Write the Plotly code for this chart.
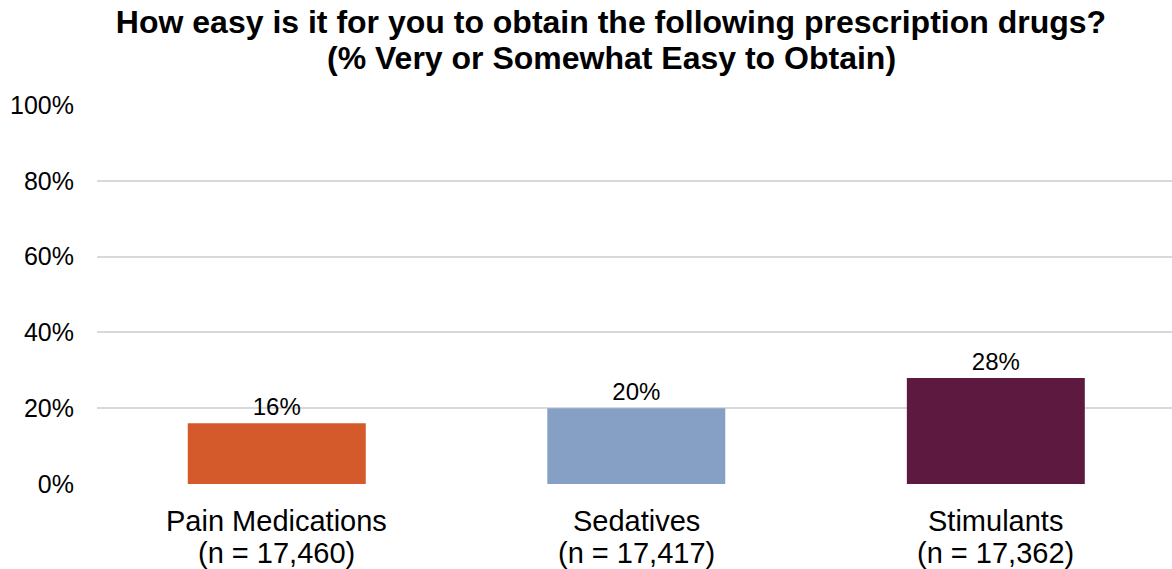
import plotly.graph_objects as go

# Survey results: share who find each drug class very/somewhat easy to obtain
categories = ["Pain Medications", "Sedatives", "Stimulants"]
sample_sizes = ["17,460", "17,417", "17,362"]
pct_easy = [16, 20, 28]
bar_colors = ["#D55A2B", "#85A0C4", "#5E1941"]
y_ticks = [0, 20, 40, 60, 80, 100]
y_tick_labels = ["0%", "20%", "40%", "60%", "80%", "100%"]

FONT = "Liberation Sans, Arial, sans-serif"
W, H = 1172, 569
M_L, M_R, M_T, M_B = 97, 0, 105, 85
TITLE_CX = 611  # horizontal centre of both title lines, px

fig = go.Figure(
    go.Bar(
        x=categories,
        y=pct_easy,
        width=0.495,
        marker=dict(color=bar_colors, line=dict(width=0)),
        text=[f"{v}%" for v in pct_easy],
        textposition="outside",
        textfont=dict(family=FONT, size=24, color="#000000"),
        cliponaxis=False,
    )
)

# Category labels: name on the first line, sample size beneath
annotations = []
for cat, n in zip(categories, sample_sizes):
    annotations.append(dict(x=cat, xref="x", y=0, yref="paper", yshift=-37,
                            text=cat, showarrow=False, yanchor="middle",
                            font=dict(size=29, family=FONT, color="#000000")))
    annotations.append(dict(x=cat, xref="x", y=0, yref="paper", yshift=-69,
                            text=f"(n = {n})", showarrow=False, yanchor="middle",
                            font=dict(size=29, family=FONT, color="#000000")))

# Second title line
annotations.append(dict(x=(TITLE_CX - M_L) / (W - M_L - M_R), xref="paper",
                        y=1, yref="paper", yshift=47,
                        xanchor="center", yanchor="middle", showarrow=False,
                        text="<b>(% Very or Somewhat Easy to Obtain)</b>",
                        font=dict(size=32, family=FONT, color="#000000")))

fig.update_layout(
    width=W,
    height=H,
    margin=dict(l=M_L, r=M_R, t=M_T, b=M_B, autoexpand=False),
    paper_bgcolor="white",
    plot_bgcolor="white",
    showlegend=False,
    font=dict(family=FONT, color="#000000"),
    title=dict(
        text="<b>How easy is it for you to obtain the following prescription drugs?</b>",
        font=dict(size=32, color="#000000"),
        x=TITLE_CX / W,
        xanchor="center",
        y=1 - 22 / H,
        yanchor="middle",
    ),
    annotations=annotations,
)

fig.update_xaxes(
    range=[-0.5, 2.49],
    showticklabels=False,
    showgrid=False,
    showline=False,
    zeroline=False,
    ticks="",
    automargin=False,
)

fig.update_yaxes(
    range=[0, 100],
    tickmode="array",
    tickvals=y_ticks,
    ticktext=y_tick_labels,
    tickfont=dict(size=25),
    showgrid=True,
    gridcolor="#D9D9D9",
    gridwidth=2,
    zeroline=False,
    showline=False,
    ticks="",
    ticklabelstandoff=22,
    automargin=False,
)

fig.write_html("out.html")
